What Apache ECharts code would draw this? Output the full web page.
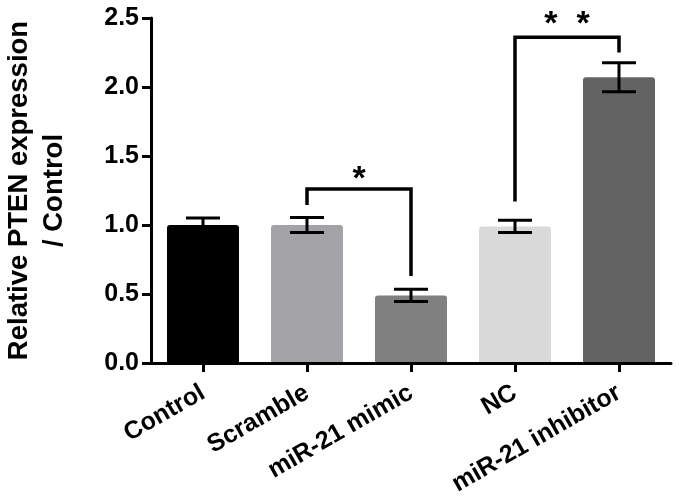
<!DOCTYPE html>
<html>
<head>
<meta charset="utf-8">
<script src="https://cdn.jsdelivr.net/npm/echarts@6/dist/echarts.min.js"></script>
<style>
html,body{margin:0;padding:0;background:#fff;}
#chart{width:679px;height:502px;}
</style>
</head>
<body>
<div id="chart"></div>
<script>
// ---- data ----
var categories = ['Control', 'Scramble', 'miR-21 mimic', 'NC', 'miR-21 inhibitor'];
var means = [1.00, 1.00, 0.49, 0.99, 2.07];
var sems = [0.05, 0.055, 0.045, 0.045, 0.105];
var yTicks = [0.0, 0.5, 1.0, 1.5, 2.0, 2.5];
// significance brackets: [fromIndex, toIndex, topValue, leftLegEnd, rightLegEnd]
var bracketFrom = [1, 3];
var bracketTo = [2, 4];
var bracketTop = [1.26, 2.36];
var bracketLeftEnd = [1.145, 1.17];
var bracketRightEnd = [0.63, 2.25];
var sigLabels = ['*', '*  *'];
var sigLabelY = [1.33, 2.45];
var yTitle = 'Relative PTEN expression\n/ Control';

// ---- styles ----
var barColors = ['#000000', '#a3a3a7', '#808080', '#d9d9d9', '#636363'];
var FONT = '"Liberation Sans", Arial, Helvetica, sans-serif';

var chart = echarts.init(document.getElementById('chart'), null, {renderer: 'canvas'});

var barData = means.map(function (v, i) {
  return {value: v, itemStyle: {color: barColors[i]}};
});
var errData = means.map(function (v, i) { return [i, v, sems[i]]; });
var bracketData = bracketFrom.map(function (f, i) {
  return [f, bracketTo[i], bracketTop[i], bracketLeftEnd[i], bracketRightEnd[i], sigLabelY[i], i];
});

var option = {
  animation: false,
  backgroundColor: '#ffffff',
  grid: {left: 151, right: 8, top: 18, bottom: 139, containLabel: false, outerBoundsMode: 'none'},
  xAxis: {
    type: 'category',
    data: categories,
    z: 10,
    axisLine: {show: true, lineStyle: {color: '#000', width: 3}},
    axisTick: {show: true, alignWithLabel: true, length: 9, lineStyle: {color: '#000', width: 3}},
    axisLabel: {
      rotate: 30, margin: 28, interval: 0,
      color: '#000', fontFamily: FONT, fontWeight: 'bold', fontSize: 25
    },
    splitLine: {show: false}
  },
  yAxis: {
    type: 'value',
    min: yTicks[0], max: yTicks[yTicks.length - 1], interval: 0.5,
    z: 10,
    name: yTitle,
    nameLocation: 'middle',
    nameRotate: 90,
    nameGap: 79,
    nameTextStyle: {color: '#000', fontFamily: FONT, fontWeight: 'bold', fontSize: 27.5, lineHeight: 35, align: 'center'},
    axisLine: {show: true, lineStyle: {color: '#000', width: 3}},
    axisTick: {show: true, length: 9, lineStyle: {color: '#000', width: 3}},
    axisLabel: {
      margin: 12, color: '#000', fontFamily: FONT, fontWeight: 'bold', fontSize: 25,
      formatter: function (v) { return v.toFixed(1); }
    },
    splitLine: {show: false}
  },
  series: [
    {
      type: 'bar',
      data: barData,
      barWidth: 72,
      itemStyle: {borderRadius: [3, 3, 0, 0]},
      z: 2
    },
    {
      type: 'custom',
      data: errData,
      z: 5,
      renderItem: function (params, api) {
        var x = api.value(0), m = api.value(1), e = api.value(2);
        var top = api.coord([x, m + e]);
        var bot = api.coord([x, m - e]);
        var hc = 17;
        var st = {stroke: '#000', lineWidth: 3};
        return {
          type: 'group',
          children: [
            {type: 'line', shape: {x1: top[0], y1: top[1], x2: bot[0], y2: bot[1]}, style: st},
            {type: 'line', shape: {x1: top[0] - hc, y1: top[1], x2: top[0] + hc, y2: top[1]}, style: st},
            {type: 'line', shape: {x1: bot[0] - hc, y1: bot[1], x2: bot[0] + hc, y2: bot[1]}, style: st}
          ]
        };
      }
    },
    {
      type: 'custom',
      data: bracketData,
      z: 6,
      renderItem: function (params, api) {
        var f = api.value(0), t = api.value(1), topV = api.value(2),
            lE = api.value(3), rE = api.value(4), sy = api.value(5);
        var idx = api.value(6);
        var pL = api.coord([f, lE]);
        var pLT = api.coord([f, topV]);
        var pRT = api.coord([t, topV]);
        var pR = api.coord([t, rE]);
        var sPos = api.coord([f, sy]);
        var midX = (pLT[0] + pRT[0]) / 2;
        return {
          type: 'group',
          children: [
            {type: 'polyline', shape: {points: [pL, pLT, pRT, pR]},
             style: {stroke: '#000', lineWidth: 3.5, fill: null, lineJoin: 'miter'}},
            {type: 'text', x: midX, y: sPos[1],
             style: {text: sigLabels[idx], fill: '#000', font: 'bold 34px ' + FONT,
                     align: 'center', verticalAlign: 'middle'}}
          ]
        };
      }
    }
  ]
};
chart.setOption(option);
</script>
</body>
</html>
